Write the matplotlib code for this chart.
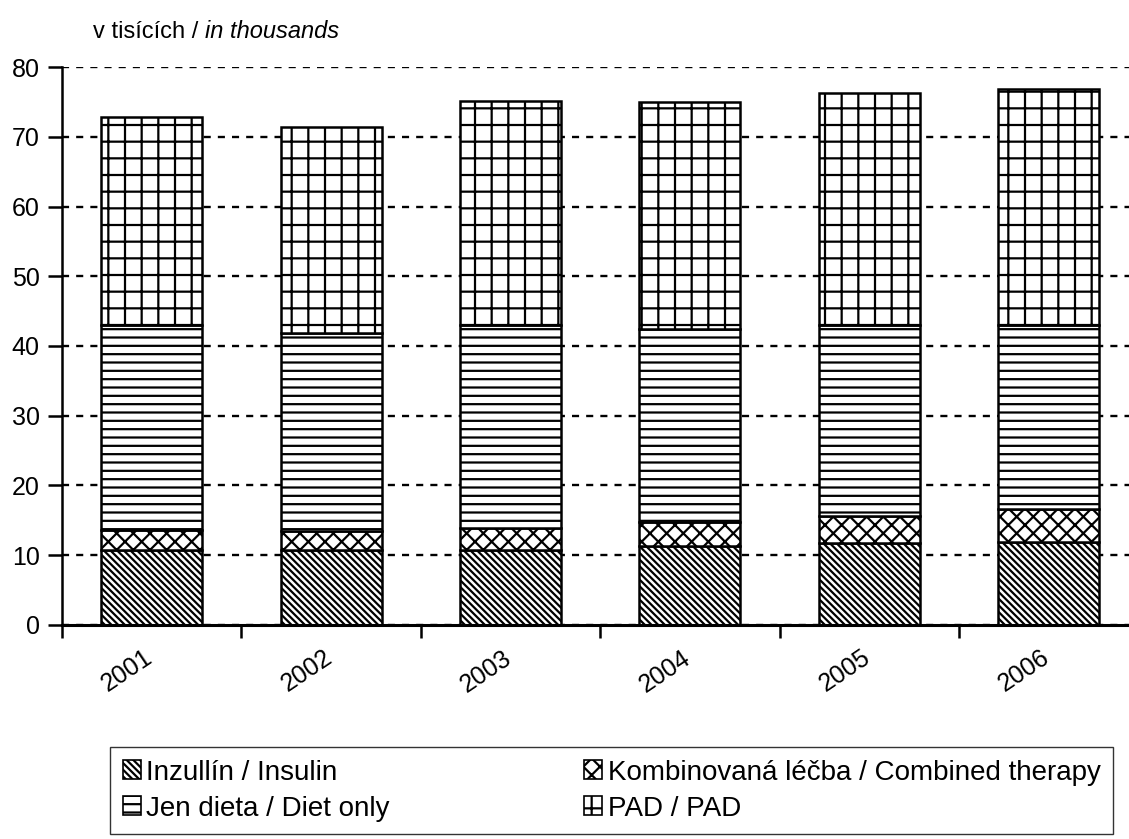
import matplotlib
matplotlib.use('Agg')
import matplotlib.pyplot as plt
import matplotlib.transforms as mtransforms
import numpy as np
from matplotlib.patches import Patch

plt.rcParams['font.family'] = ['Liberation Sans Narrow', 'Liberation Sans', 'DejaVu Sans']
plt.rcParams['hatch.linewidth'] = 1.6

years = ['2001', '2002', '2003', '2004', '2005', '2006']
insulin = [10.7, 10.7, 10.7, 11.3, 11.7, 11.9]
combined = [2.9, 2.7, 3.2, 3.5, 3.9, 4.7]
diet = [29.4, 28.4, 29.1, 27.6, 27.4, 26.4]
pad = [29.8, 29.7, 32.2, 32.6, 33.3, 33.9]

labels = ['Inzullín / Insulin', 'Kombinovaná léčba / Combined therapy',
          'Jen dieta / Diet only', 'PAD / PAD']

fig = plt.figure(figsize=(11.29, 8.39), dpi=100)
ax = fig.add_axes([62 / 1129, 214.3 / 839, 1076.4 / 1129, 557.4 / 839])

x = np.arange(len(years))
w = 0.563
bottom = np.zeros(len(years))
series = [(insulin, '\\' * 5), (combined, 'xx'), (diet, '--'), (pad, '+')]
for vals, hatch in series:
    ax.bar(x, vals, w, bottom=bottom, color='white', edgecolor='black',
           hatch=hatch, linewidth=1.8, zorder=3)
    bottom += np.array(vals)

ax.set_xlim(-0.5, 5.5)
ax.set_ylim(0, 80)
ax.set_yticks(range(0, 81, 10))
ax.tick_params(axis='y', direction='out', length=10, width=1.8, labelsize=18, pad=6)

ax.set_xticks(x)
ax.set_xticklabels(years, rotation=34, ha='right', rotation_mode='anchor', fontsize=18)
ax.tick_params(axis='x', which='major', length=0, pad=15)
ax.set_xticks(np.arange(-0.5, 6, 1), minor=True)
ax.tick_params(axis='x', which='minor', direction='out', length=9, width=1.8)
shift = mtransforms.ScaledTranslation(-8 / 100, 0, fig.dpi_scale_trans)
for lbl in ax.get_xticklabels():
    lbl.set_transform(lbl.get_transform() + shift)

ax.yaxis.grid(True, color='black', linestyle=(0, (3, 3)), linewidth=1.7, zorder=1)
ax.set_axisbelow(True)
for s in ['top', 'right']:
    ax.spines[s].set_visible(False)
ax.spines['left'].set_linewidth(1.8)
ax.spines['bottom'].set_linewidth(2.2)
ax.spines['bottom'].set_zorder(4)

t1 = fig.text(93 / 1129, 1 - 38 / 839, 'v tisících / ', fontsize=17, ha='left', va='baseline')
ax.annotate('in thousands', xy=(1, 0), xycoords=t1, ha='left', va='bottom',
            fontsize=17, style='italic', annotation_clip=False)

handles = [Patch(facecolor='white', edgecolor='black', hatch=h, linewidth=1.2)
           for _, h in series]
order = [0, 2, 1, 3]
leg = fig.legend([handles[i] for i in order], [labels[i] for i in order],
                 ncol=2, loc='upper left', bbox_to_anchor=(110 / 1129, 1 - 747 / 839),
                 borderaxespad=0, frameon=True, fancybox=False, edgecolor='black',
                 fontsize=20, handlelength=0.65, handleheight=0.65, handletextpad=0.2,
                 columnspacing=7.0, borderpad=0.45, labelspacing=0.36)
leg.get_frame().set_linewidth(1.0)

fig.savefig('out.png', dpi=100)
